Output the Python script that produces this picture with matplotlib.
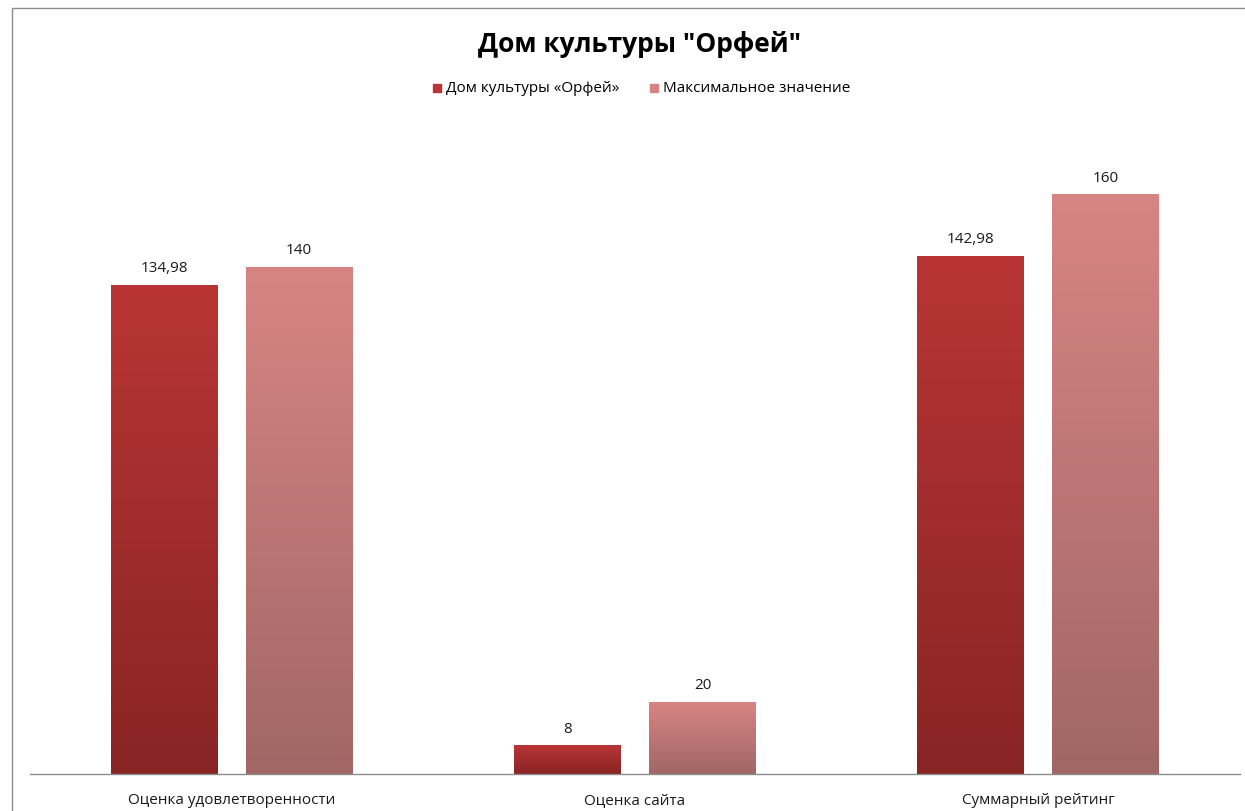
import numpy as np
import matplotlib.pyplot as plt
from matplotlib.colors import LinearSegmentedColormap
from matplotlib.patches import Rectangle

plt.rcParams['font.family'] = ['Open Sans', 'DejaVu Sans']

# data
categories = ['Оценка удовлетворенности', 'Оценка сайта', 'Суммарный рейтинг']
orfey = [134.98, 8, 142.98]
maximum = [140, 20, 160]
labels_orfey = ['134,98', '8', '142,98']
labels_max = ['140', '20', '160']
series_names = ['Дом культуры «Орфей»', 'Максимальное значение']

red_top, red_bot = '#B93535', '#892424'
pink_top, pink_bot = '#D78584', '#A16765'

fig = plt.figure(figsize=(12.45, 8.12), dpi=100)
ax = fig.add_axes([30 / 1245, (812 - 775) / 812, 1210 / 1245, (775 - 122.5) / 812])

# outer chart border
fig.add_artist(Rectangle((12 / 1245, -0.01), 1.02, (812 - 9) / 812 + 0.01,
                         transform=fig.transFigure, fill=False,
                         edgecolor='#8c8c8c', linewidth=1.0))

x = np.arange(len(categories))
w = 0.265
gap = 0.0695
b1 = ax.bar(x - (w + gap) / 2, orfey, w, color='none')
b2 = ax.bar(x + (w + gap) / 2, maximum, w, color='none')

def gradient_fill(bars, top, bot):
    cmap = LinearSegmentedColormap.from_list('g', [bot, top])
    grad = np.linspace(0, 1, 256).reshape(-1, 1)
    for p in bars:
        x0, y0 = p.get_x(), p.get_y()
        x1, y1 = x0 + p.get_width(), y0 + p.get_height()
        im = ax.imshow(grad, cmap=cmap, aspect='auto', origin='lower',
                       extent=[x0, x1, y0, y1], zorder=2)
        im.set_clip_path(p)

gradient_fill(b1, red_top, red_bot)
gradient_fill(b2, pink_top, pink_bot)

for p, t in zip(b1, labels_orfey):
    ax.text(p.get_x() + p.get_width() / 2, p.get_height() + 2.6, t,
            ha='center', va='bottom', fontsize=11, color='#1a1a1a')
for p, t in zip(b2, labels_max):
    ax.text(p.get_x() + p.get_width() / 2, p.get_height() + 2.6, t,
            ha='center', va='bottom', fontsize=11, color='#1a1a1a')

ax.set_xlim(-0.5, len(categories) - 0.5)
ax.set_ylim(0, 180)
ax.set_xticks(x)
ax.set_xticklabels(categories, fontsize=11, color='#1a1a1a')
ax.tick_params(axis='x', length=0, pad=13)
ax.set_yticks([])
for s in ['top', 'right', 'left']:
    ax.spines[s].set_visible(False)
ax.spines['bottom'].set_color('#8c8c8c')
ax.spines['bottom'].set_linewidth(1.0)

fig.text(640 / 1245, 1 - 45 / 812, 'Дом культуры "Орфей"', ha='center', va='center',
         fontsize=19, fontweight='bold', color='black')

# legend
fig.add_artist(Rectangle((433 / 1245, 1 - 93 / 812), 8 / 1245, 8 / 812,
                         transform=fig.transFigure, color=red_top))
fig.text(446 / 1245, 1 - 88 / 812, series_names[0], ha='left', va='center', fontsize=11)
fig.add_artist(Rectangle((650 / 1245, 1 - 93 / 812), 8 / 1245, 8 / 812,
                         transform=fig.transFigure, color=pink_top))
fig.text(663 / 1245, 1 - 88 / 812, series_names[1], ha='left', va='center', fontsize=11)

fig.savefig('out.png', dpi=100)
